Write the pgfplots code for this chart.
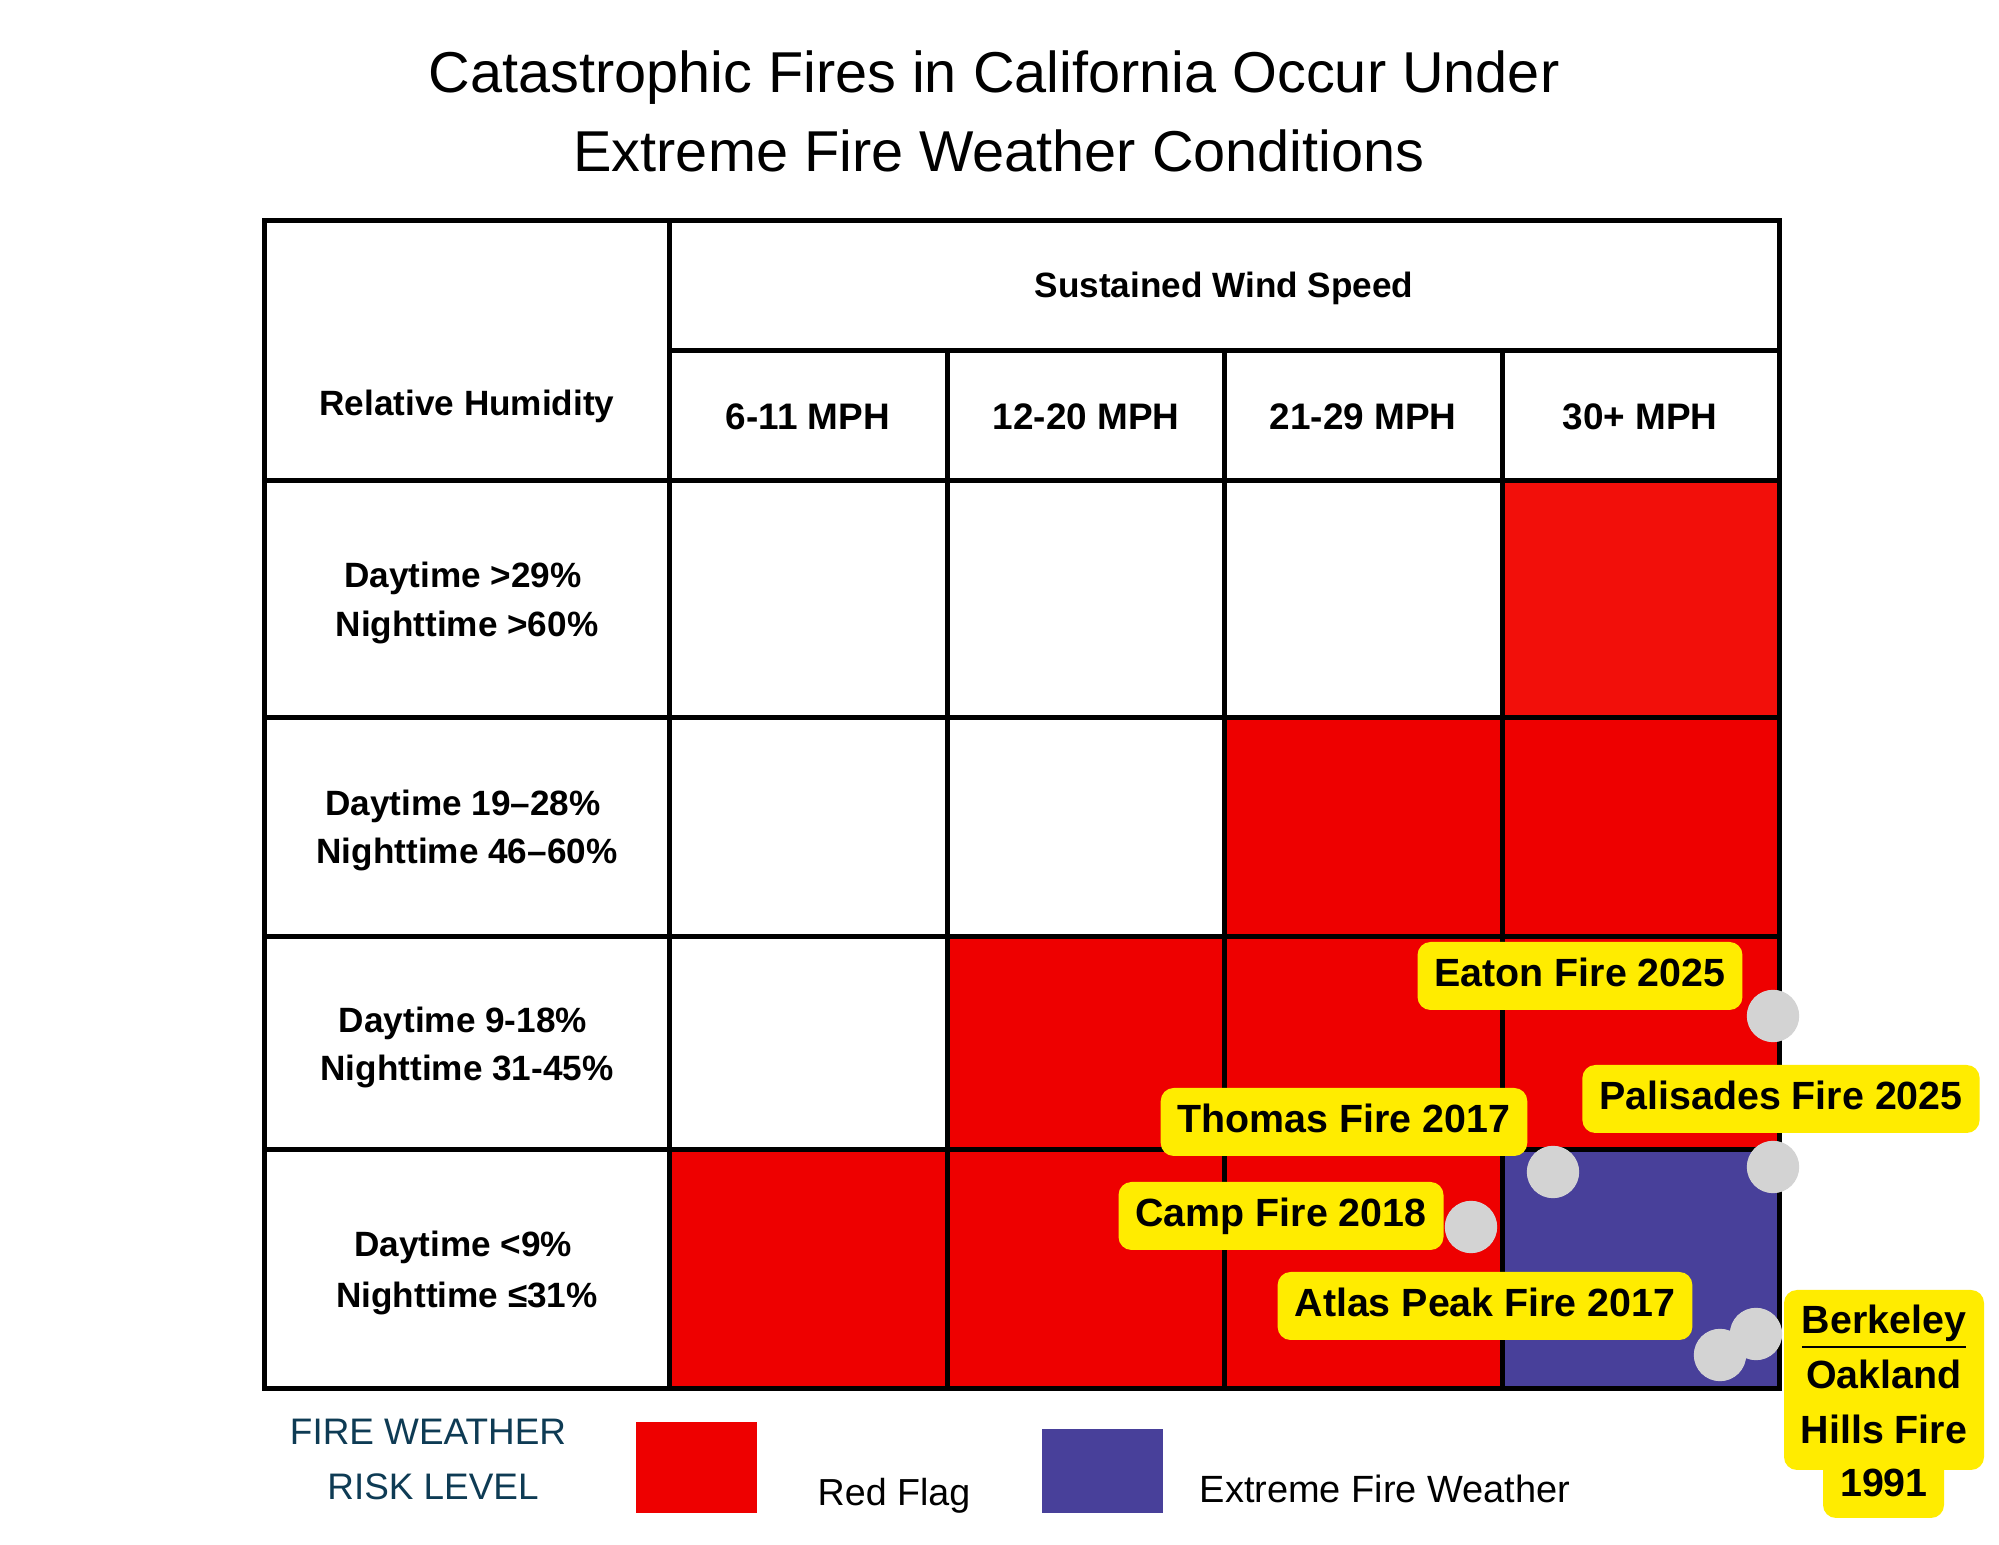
\documentclass[border=0pt]{standalone}
\usepackage{fontspec}
\setmainfont{Liberation Sans}
\usepackage{pgfplots}
\pgfplotsset{compat=1.18}

\definecolor{flagred}{HTML}{EE0000}
\definecolor{flagredtop}{HTML}{F20F0A}
\definecolor{extreme}{HTML}{48409A}
\definecolor{tagyellow}{HTML}{FFEC00}
\definecolor{dotgray}{HTML}{D3D3D3}
\definecolor{risk}{HTML}{0E3B54}

\pgfplotsset{
    grid line/.style={black, line width=0.5mm, line cap=rect, forget plot},
    cell/.style={draw=none, forget plot},
}
\tikzset{
    tag/.style={fill=tagyellow, rounded corners=1.3mm, inner xsep=1.7mm,
        inner ysep=0pt, minimum height=6.8mm, text height=2.9mm, text depth=0.8mm,
        font=\fontsize{11.2}{13}\selectfont\bfseries, anchor=center},
    head/.style={font=\fontsize{10}{12}\selectfont\bfseries, anchor=base},
}

\begin{document}
\begin{tikzpicture}
\begin{axis}[
    hide axis,
    scale only axis,
    width=199.9mm, height=154.5mm,
    xmin=0, xmax=1999, ymin=0, ymax=1545,
    y dir=reverse,
    clip=false,
]
% background
\addplot[cell, fill=white] coordinates {(0,0) (1999,0) (1999,1545) (0,1545)} -- cycle;

% coloured cells
\addplot[cell, fill=flagredtop] coordinates {(1502,481) (1779,481) (1779,718) (1502,718)} -- cycle;
\addplot[cell, fill=flagred] coordinates {(1224,718) (1779,718) (1779,937) (1224,937)} -- cycle;
\addplot[cell, fill=flagred] coordinates {(947,937) (1779,937) (1779,1150) (947,1150)} -- cycle;
\addplot[cell, fill=flagred] coordinates {(669,1150) (1502,1150) (1502,1389) (669,1389)} -- cycle;
\addplot[cell, fill=extreme] coordinates {(1502,1150) (1779,1150) (1779,1389) (1502,1389)} -- cycle;

% table rules
\addplot[grid line] coordinates {(264,221) (1779,221)};
\addplot[grid line] coordinates {(669,351) (1779,351)};
\addplot[grid line] coordinates {(264,481) (1779,481)};
\addplot[grid line] coordinates {(264,718) (1779,718)};
\addplot[grid line] coordinates {(264,937) (1779,937)};
\addplot[grid line] coordinates {(264,1150) (1779,1150)};
\addplot[grid line] coordinates {(264,1389) (1779,1389)};
\addplot[grid line] coordinates {(264,221) (264,1389)};
\addplot[grid line] coordinates {(669,221) (669,1389)};
\addplot[grid line] coordinates {(947,351) (947,1389)};
\addplot[grid line] coordinates {(1224,351) (1224,1389)};
\addplot[grid line] coordinates {(1502,351) (1502,1389)};
\addplot[grid line] coordinates {(1779,221) (1779,1389)};

% title
\node[anchor=base, font=\fontsize{16.4}{19}\selectfont] at (axis cs:994,93) {Catastrophic Fires in California Occur Under};
\node[anchor=base, font=\fontsize{16.4}{19}\selectfont] at (axis cs:999,172) {Extreme Fire Weather Conditions};

% headers
\node[head] at (axis cs:1224,298) {Sustained Wind Speed};
\node[head] at (axis cs:467,416) {Relative Humidity};
\node[head, font=\fontsize{10.5}{12}\selectfont\bfseries] at (axis cs:808,430) {6-11 MPH};
\node[head, font=\fontsize{10.5}{12}\selectfont\bfseries] at (axis cs:1086,430) {12-20 MPH};
\node[head, font=\fontsize{10.5}{12}\selectfont\bfseries] at (axis cs:1363,430) {21-29 MPH};
\node[head, font=\fontsize{10.5}{12}\selectfont\bfseries] at (axis cs:1640,430) {30+ MPH};

\node[head] at (axis cs:463,588) {Daytime >29\%};
\node[head] at (axis cs:467,637) {Nighttime >60\%};
\node[head] at (axis cs:463,816) {Daytime 19–28\%};
\node[head] at (axis cs:467,864) {Nighttime 46–60\%};
\node[head] at (axis cs:463,1033) {Daytime 9-18\%};
\node[head] at (axis cs:467,1081) {Nighttime 31-45\%};
\node[head] at (axis cs:463,1257) {Daytime <9\%};
\node[head] at (axis cs:467,1308) {Nighttime ≤31\%};

% fire tags
\node[tag] at (axis cs:1580,976) {Eaton Fire 2025};
\node[tag] at (axis cs:1781,1099) {Palisades Fire 2025};
\node[tag] at (axis cs:1344,1122) {Thomas Fire 2017};
\node[tag] at (axis cs:1281,1216) {Camp Fire 2018};
\node[tag] at (axis cs:1485,1306) {Atlas Peak Fire 2017};

\addplot[cell, fill=tagyellow, rounded corners=1.3mm] coordinates {(1784,1290) (1984,1290) (1984,1470) (1784,1470)} -- cycle;
\addplot[cell, fill=tagyellow, rounded corners=1.3mm] coordinates {(1823,1430) (1944,1430) (1944,1518) (1823,1518)} -- cycle;
\node[head, font=\fontsize{11.2}{13}\selectfont\bfseries] at (axis cs:1884,1334) {\underline{Berkeley}};
\node[head, font=\fontsize{11.2}{13}\selectfont\bfseries] at (axis cs:1884,1389) {Oakland};
\node[head, font=\fontsize{11.2}{13}\selectfont\bfseries] at (axis cs:1884,1444) {Hills Fire};
\node[head, font=\fontsize{11.2}{13}\selectfont\bfseries] at (axis cs:1884,1497) {1991};

% fires
\addplot[only marks, mark=*, mark size=2.55mm, color=dotgray] coordinates {
    (1773,1016) (1773,1167) (1553,1172) (1471,1227) (1756,1334) (1720,1355)
};

% legend
\node[anchor=base, text=risk, font=\fontsize{10.5}{12}\selectfont] at (axis cs:428,1445) {FIRE WEATHER};
\node[anchor=base, text=risk, font=\fontsize{10.5}{12}\selectfont] at (axis cs:433,1500) {RISK LEVEL};
\addplot[cell, fill=flagred] coordinates {(636,1422) (757,1422) (757,1513) (636,1513)} -- cycle;
\node[anchor=base, font=\fontsize{10.7}{12}\selectfont] at (axis cs:894,1506) {Red Flag};
\addplot[cell, fill=extreme] coordinates {(1042,1429) (1163,1429) (1163,1513) (1042,1513)} -- cycle;
\node[anchor=base, font=\fontsize{10.8}{12}\selectfont] at (axis cs:1385,1503) {Extreme Fire Weather};
\end{axis}
\end{tikzpicture}
\end{document}
